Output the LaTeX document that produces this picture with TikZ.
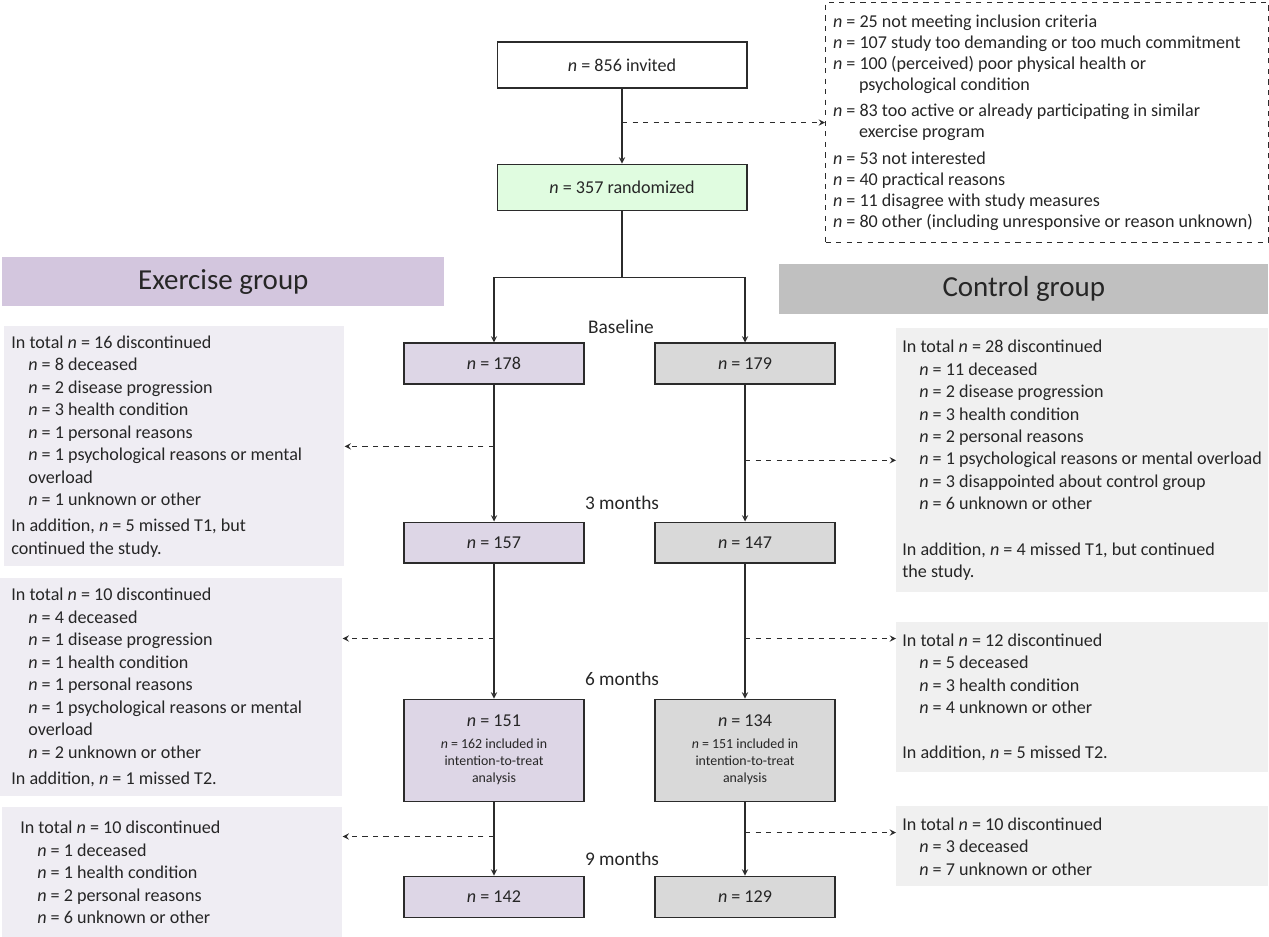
\documentclass[tikz,border=0pt]{standalone}
\usepackage{fontspec}
\setmainfont{Carlito}
\usepackage{tikz}
\usetikzlibrary{arrows}
\usetikzlibrary{positioning}
\definecolor{exhead}{HTML}{D3C6DE}
\definecolor{cthead}{HTML}{C0C0C0}
\definecolor{exfill}{HTML}{DDD6E6}
\definecolor{ctfill}{HTML}{D9D9D9}
\definecolor{exnotefill}{HTML}{EFEDF3}
\definecolor{ctnotefill}{HTML}{F0F0F0}
\definecolor{randfill}{HTML}{E0FCE0}
\definecolor{linecol}{HTML}{2B2B2B}
\newcommand{\nn}{\textit{n}}
\newcommand{\ind}{\hspace*{0.34cm}}
\newcommand{\smalltxt}{\fontsize{7.9}{9.6}\selectfont}

\begin{document}
\begin{tikzpicture}[x=0.02cm, y=-0.02cm, >=stealth,
    every node/.style={font=\fontsize{10.3}{12.8}\selectfont, text=black!85},
    flowbox/.style={draw=linecol, line width=0.6pt, text width=3.4cm, inner xsep=0.1cm,
      inner ysep=2pt, minimum height=0.82cm, align=flush center},
    exbox/.style={flowbox, fill=exfill},
    ctbox/.style={flowbox, fill=ctfill},
    note/.style={anchor=north west, align=flush left, inner ysep=0pt},
    exnote/.style={note, fill=exnotefill},
    ctnote/.style={note, fill=ctnotefill},
    header/.style={anchor=north west, inner sep=0pt, font=\fontsize{16.5}{19}\selectfont},
    timept/.style={font=\fontsize{11}{13}\selectfont},
    flow/.style={->, draw=linecol, line width=0.6pt},
    drop/.style={->, draw=linecol, dashed, line width=0.6pt}
  ]
    \useasboundingbox (0,0) rectangle (1269,937);

    % enrolment
    \node[flowbox, text width=4.8cm, minimum height=0.92cm] (invited) at (622,65) {\nn{} = 856 invited};
    \node[flowbox, fill=randfill, text width=4.8cm, minimum height=0.92cm, below=1.5cm of invited] (random) {\nn{} = 357 randomized};
    \node[note, draw=linecol, dashed, line width=0.6pt, text width=8.56cm, inner xsep=0.15cm,
      minimum height=4.8cm, font=\fontsize{10.3}{12}\selectfont] (excl) at (825,2) {%
      \nn{} = 25 not meeting inclusion criteria\\
      \nn{} = 107 study too demanding or too much commitment\\
      \nn{} = 100 (perceived) poor physical health or\\
      \hspace*{0.52cm}psychological condition\\[3pt]
      \nn{} = 83 too active or already participating in similar\\
      \hspace*{0.52cm}exercise program\\[3pt]
      \nn{} = 53 not interested\\
      \nn{} = 40 practical reasons\\
      \nn{} = 11 disagree with study measures\\
      \mbox{\nn{} = 80 other (including unresponsive or reason unknown)}};

    % group headers
    \node[header, fill=exhead, minimum width=8.84cm, minimum height=0.98cm] (exgroup) at (2,257) {Exercise group};
    \node[header, fill=cthead, minimum width=9.78cm, minimum height=1cm] (ctgroup) at (779,264) {Control group};

    % follow-up boxes
    \node[exbox] (e178) at (494,363.5) {\nn{} = 178};
    \node[ctbox, right=1.4cm of e178] (c179) {\nn{} = 179};
    \node[exbox, below=2.74cm of e178] (e157) {\nn{} = 157};
    \node[ctbox, below=2.74cm of c179] (c147) {\nn{} = 147};
    \node[exbox, minimum height=2.04cm, below=2.7cm of e157] (e151) {\nn{} = 151\\[3pt]
      {\smalltxt\nn{} = 162 included in\\ intention-to-treat\\ analysis\par}};
    \node[ctbox, minimum height=2.04cm, below=2.7cm of c147] (c134) {\nn{} = 134\\[3pt]
      {\smalltxt\nn{} = 151 included in\\ intention-to-treat\\ analysis\par}};
    \node[exbox, below=1.48cm of e151] (e142) {\nn{} = 142};
    \node[ctbox, below=1.48cm of c134] (c129) {\nn{} = 129};

    % time points
    \node[timept] (tbase) at (621,327) {Baseline};
    \node[timept] (t3) at (622,503) {3 months};
    \node[timept] (t6) at (622,679) {6 months};
    \node[timept] (t9) at (622,859) {9 months};

    % drop-out notes
    \node[exnote, text width=6.52cm, inner xsep=0.14cm, minimum height=4.8cm] (exdrop1) at (4,326) {%
      In total \nn{} = 16 discontinued\\
      \ind\nn{} = 8 deceased\\
      \ind\nn{} = 2 disease progression\\
      \ind\nn{} = 3 health condition\\
      \ind\nn{} = 1 personal reasons\\
      \ind\nn{} = 1 psychological reasons or mental\\
      \ind overload\\
      \ind\nn{} = 1 unknown or other\\[2pt]
      In addition, \nn{} = 5 missed T1, but\\
      continued the study.};
    \node[ctnote, text width=7.2cm, inner xsep=0.12cm, minimum height=5.28cm] (ctdrop1) at (896,328) {%
      In total \nn{} = 28 discontinued\\
      \ind\nn{} = 11 deceased\\
      \ind\nn{} = 2 disease progression\\
      \ind\nn{} = 3 health condition\\
      \ind\nn{} = 2 personal reasons\\
      \ind\mbox{\nn{} = 1 psychological reasons or mental overload}\\
      \ind\nn{} = 3 disappointed about control group\\
      \ind\nn{} = 6 unknown or other\\[13pt]
      In addition, \nn{} = 4 missed T1, but continued\\
      the study.};
    \node[exnote, text width=6.4cm, inner xsep=0.22cm, minimum height=4.36cm] (exdrop2) at (0,578) {%
      In total \nn{} = 10 discontinued\\
      \ind\nn{} = 4 deceased\\
      \ind\nn{} = 1 disease progression\\
      \ind\nn{} = 1 health condition\\
      \ind\nn{} = 1 personal reasons\\
      \ind\nn{} = 1 psychological reasons or mental\\
      \ind overload\\
      \ind\nn{} = 2 unknown or other\\[2pt]
      In addition, \nn{} = 1 missed T2.};
    \node[ctnote, text width=7.2cm, inner xsep=0.12cm, minimum height=3cm] (ctdrop2) at (896,622) {%
      In total \nn{} = 12 discontinued\\
      \ind\nn{} = 5 deceased\\
      \ind\nn{} = 3 health condition\\
      \ind\nn{} = 4 unknown or other\\[13pt]
      In addition, \nn{} = 5 missed T2.};
    \node[exnote, text width=6.08cm, inner xsep=0.36cm, minimum height=2.6cm] (exdrop3) at (2,807) {%
      In total \nn{} = 10 discontinued\\
      \ind\nn{} = 1 deceased\\
      \ind\nn{} = 1 health condition\\
      \ind\nn{} = 2 personal reasons\\
      \ind\nn{} = 6 unknown or other};
    \node[ctnote, text width=7.2cm, inner xsep=0.12cm, minimum height=1.6cm] (ctdrop3) at (896,806) {%
      In total \nn{} = 10 discontinued\\
      \ind\nn{} = 3 deceased\\
      \ind\nn{} = 7 unknown or other};

    % main flow
    \coordinate[below=1.34cm of random] (split);
    \draw[flow] (invited) -- (random);
    \draw[draw=linecol, line width=0.6pt] (random) -- (split);
    \draw[flow] (split) -| (e178);
    \draw[flow] (split) -| (c179);
    \draw[flow] (e178) -- (e157);
    \draw[flow] (c179) -- (c147);
    \draw[flow] (e157) -- (e151);
    \draw[flow] (c147) -- (c134);
    \draw[flow] (e151) -- (e142);
    \draw[flow] (c134) -- (c129);

    % drop-outs
    \coordinate[below=1.5cm of e157] (ex6);
    \coordinate[below=1.5cm of c147] (ct6);
    \coordinate[below=0.7cm of e151] (ex9);
    \coordinate[below=0.62cm of c134] (ct9);
    \draw[drop] (invited |- excl.west) -- (excl.west);
    \draw[drop] (e178 |- exdrop1.east) -- (exdrop1.east);
    \draw[drop] (c179 |- ctdrop1.west) -- (ctdrop1.west);
    \draw[drop] (ex6) -- (ex6 -| exdrop2.east);
    \draw[drop] (ct6) -- (ct6 -| ctdrop2.west);
    \draw[drop] (ex9) -- (ex9 -| exdrop3.east);
    \draw[drop] (ct9) -- (ct9 -| ctdrop3.west);
\end{tikzpicture}
\end{document}
